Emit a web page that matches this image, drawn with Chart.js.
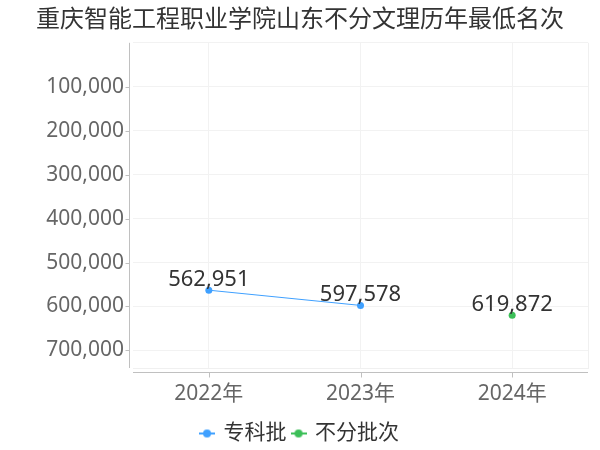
<!DOCTYPE html>
<html>
<head>
<meta charset="utf-8">
<script src="https://cdn.jsdelivr.net/npm/chart.js@4/dist/chart.umd.min.js"></script>
<style>
html,body{margin:0;padding:0;background:#fff;}
#wrap{width:600px;height:450px;position:relative;}
</style>
</head>
<body>
<div id="wrap"><canvas id="c" width="600" height="450"></canvas></div>
<script>
const titleText = '重庆智能工程职业学院山东不分文理历年最低名次';
const categories = ['2022年', '2023年', '2024年'];
const seriesNames = ['专科批', '不分批次'];
const zhuankeValues = [562951, 597578, null];
const bufenValues = [null, null, 619872];
const yTickValues = [0, 100000, 200000, 300000, 400000, 500000, 600000, 700000];
const yMin = 0;
const yMax = 740000;

const FONT = '"Noto Sans", "Noto Sans CJK SC", sans-serif';
const BLUE = '#3fa0ff';
const GREEN = '#3cbf58';

function legendMarker(color) {
  const c = document.createElement('canvas');
  c.width = 16; c.height = 10;
  const g = c.getContext('2d');
  g.strokeStyle = color;
  g.lineWidth = 2;
  g.beginPath();
  g.moveTo(0, 5); g.lineTo(16, 5);
  g.stroke();
  g.fillStyle = color;
  g.beginPath();
  g.arc(8, 5, 4, 0, Math.PI * 2);
  g.fill();
  return c;
}

const axisPlugin = {
  id: 'axisLines',
  beforeDatasetsDraw(chart) {
    const ctx = chart.ctx;
    const a = chart.chartArea;
    const xs = chart.scales.x, ys = chart.scales.y;
    ctx.save();
    ctx.lineWidth = 1;
    ctx.strokeStyle = '#f0f0f0';
    ctx.beginPath();
    ctx.moveTo(Math.round(a.right) + 0.5, a.top);
    ctx.lineTo(Math.round(a.right) + 0.5, a.bottom);
    ctx.stroke();
    ctx.strokeStyle = '#c0c0c0';
    const yx = Math.round(a.left) - 3 - 0.5;
    ctx.beginPath();
    ctx.moveTo(yx, a.top);
    ctx.lineTo(yx, a.bottom);
    ctx.stroke();
    ys.ticks.forEach(t => {
      if (t.value === yMin) return;
      const py = Math.round(ys.getPixelForValue(t.value)) + 0.5;
      ctx.beginPath();
      ctx.moveTo(yx - 4, py);
      ctx.lineTo(yx, py);
      ctx.stroke();
    });
    const xy = Math.round(a.bottom) + 4 + 0.5;
    ctx.beginPath();
    ctx.moveTo(a.left, xy);
    ctx.lineTo(a.right, xy);
    ctx.stroke();
    categories.forEach((c, i) => {
      const px = Math.round(xs.getPixelForValue(i)) + 0.5;
      ctx.beginPath();
      ctx.moveTo(px, xy);
      ctx.lineTo(px, xy + 5);
      ctx.stroke();
    });
    ctx.restore();
  }
};

const labelPlugin = {
  id: 'valueLabels',
  afterDatasetsDraw(chart) {
    const ctx = chart.ctx;
    ctx.save();
    ctx.font = '22px ' + FONT;
    ctx.fillStyle = '#333333';
    ctx.textAlign = 'center';
    ctx.textBaseline = 'alphabetic';
    chart.data.datasets.forEach((ds, di) => {
      const meta = chart.getDatasetMeta(di);
      meta.data.forEach((pt, i) => {
        const v = ds.data[i];
        if (v === null || v === undefined) return;
        ctx.fillText(v.toLocaleString('en-US'), pt.x, pt.y - 4);
      });
    });
    ctx.restore();
  }
};

const markers = [legendMarker(BLUE), legendMarker(GREEN)];

new Chart(document.getElementById('c'), {
  type: 'line',
  data: {
    labels: categories,
    datasets: [
      {
        label: seriesNames[0],
        data: zhuankeValues,
        borderColor: BLUE,
        backgroundColor: BLUE,
        borderWidth: 1,
        pointRadius: 3.5,
        pointBorderWidth: 0,
        pointBackgroundColor: BLUE
      },
      {
        label: seriesNames[1],
        data: bufenValues,
        borderColor: GREEN,
        backgroundColor: GREEN,
        borderWidth: 1,
        pointRadius: 3.5,
        pointBorderWidth: 0,
        pointBackgroundColor: GREEN
      }
    ]
  },
  options: {
    responsive: false,
    animation: false,
    devicePixelRatio: 1,
    layout: { padding: { left: 0, right: 0, top: 0, bottom: -4 } },
    plugins: {
      title: {
        display: true,
        text: titleText,
        color: '#333333',
        font: { family: FONT, size: 24, weight: 'normal' },
        padding: { top: 6, bottom: 8 }
      },
      legend: {
        position: 'bottom',
        labels: {
          color: '#333333',
          font: { family: FONT, size: 21 },
          usePointStyle: true,
          boxWidth: 12,
          padding: 6,
          generateLabels(chart) {
            return chart.data.datasets.map((ds, i) => ({
              text: ds.label,
              fillStyle: ds.borderColor,
              strokeStyle: ds.borderColor,
              lineWidth: 0,
              pointStyle: markers[i],
              hidden: false,
              datasetIndex: i,
              fontColor: '#333333'
            }));
          }
        }
      },
      tooltip: { enabled: false }
    },
    scales: {
      x: {
        offset: true,
        grid: { display: true, color: '#f2f2f2', drawTicks: false, offset: false },
        border: { display: true, color: '#f0f0f0' },
        ticks: { color: '#666666', font: { family: FONT, size: 21 }, padding: 13 },
        afterFit(scale) { scale.height = 49; }
      },
      y: {
        reverse: true,
        min: yMin,
        max: yMax,
        grid: { display: true, color: '#f2f2f2', drawTicks: false },
        border: { display: false },
        afterBuildTicks(scale) { scale.ticks = yTickValues.map(v => ({ value: v })); },
        ticks: {
          color: '#666666',
          font: { family: FONT, size: 21 },
          padding: 9,
          callback(v) { return v === 0 ? '' : v.toLocaleString('en-US'); }
        },
        afterFit(scale) { scale.width = 133; }
      },
      yRight: {
        position: 'right',
        display: true,
        grid: { display: false, drawTicks: false },
        border: { display: false },
        ticks: { display: false },
        afterFit(scale) { scale.width = 12; }
      }
    }
  },
  plugins: [axisPlugin, labelPlugin]
});
</script>
</body>
</html>
